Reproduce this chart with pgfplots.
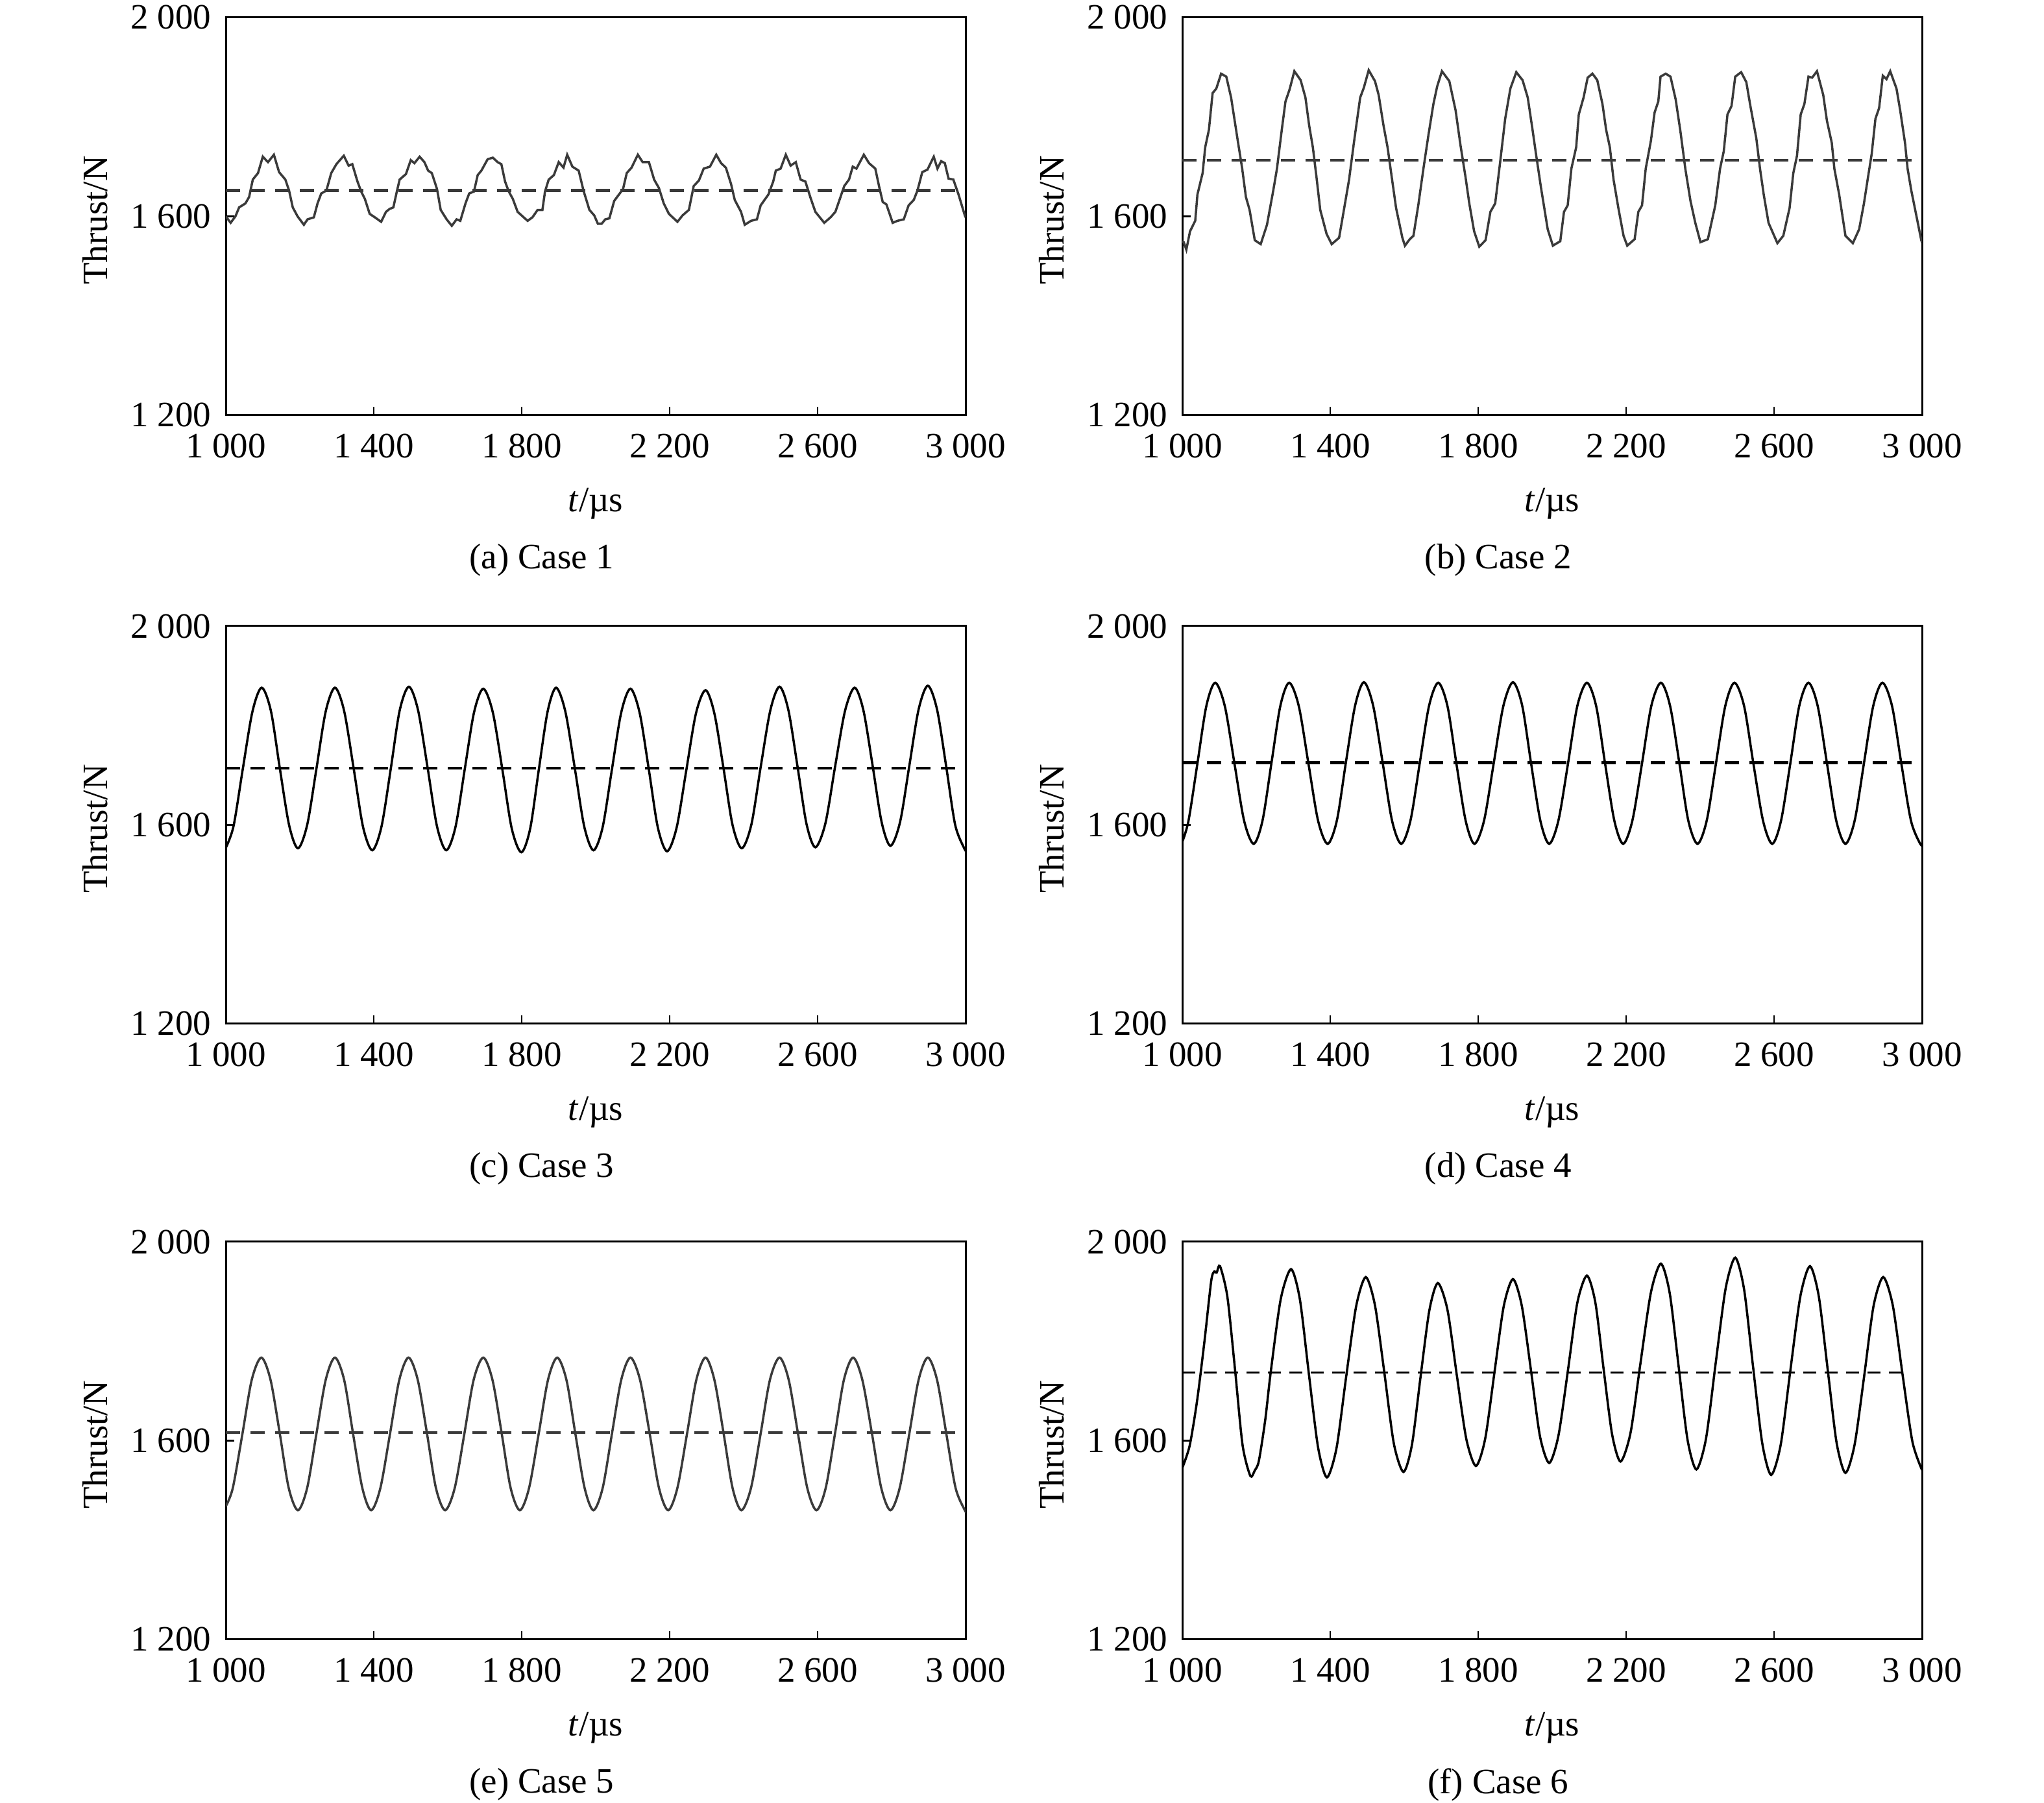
\documentclass[border=0pt]{standalone}
\usepackage{fontspec}
\setmainfont{Liberation Serif}
\usepackage{pgfplots}
\pgfplotsset{compat=1.18}

\newcommand{\fs}{\fontsize{11pt}{13pt}\selectfont}
\definecolor{curvegray}{HTML}{3A3A3A}

\pgfplotsset{
  panel/.style={
    width=228pt, height=122.6pt, scale only axis,
    anchor=south west,
    xmin=1000, xmax=3000, ymin=1200, ymax=2000,
    xtick={1000,1400,1800,2200,2600,3000},
    xticklabels={1 000,1 400,1 800,2 200,2 600,3 000},
    ytick={1200,1600,2000},
    yticklabels={1 200,1 600,2 000},
    tick align=inside, xtick pos=bottom, ytick pos=left,
    major tick length=2.5pt,
    axis line style={line width=0.6pt},
    tick style={line width=0.5pt, black},
    ticklabel style={font=\fs},
    xticklabel style={yshift=-2.2pt},
    yticklabel style={xshift=-1pt},
    label style={font=\fs},
    xlabel={\textit{t}/µs},
    ylabel={Thrust/N},
    xlabel style={at={(axis description cs:0.5,-0.222)}, anchor=center},
    ylabel style={at={(axis description cs:-0.177,0.49)}, anchor=center},
    % the default title style shifts up by 6pt; take it back
    title style={font=\fs, at={(axis description cs:0.427,-0.365)}, anchor=center, yshift=-6pt},
  },
  curve/.style={line width=0.7pt, black},
  mean/.style={line width=0.9pt, black, dash pattern=on 4.4pt off 3.2pt},
}

\begin{document}
\begin{tikzpicture}
\path[use as bounding box] (0,0) rectangle (630pt,555.8pt);

% (a) Case 1
\begin{axis}[panel, at={(69.6pt,427.8pt)}, title={(a) Case 1}]
\addplot[curve, curvegray] coordinates {
(1000,1600) (1013,1587) (1026,1600) (1036,1618) (1053,1626) (1063,1639) (1073,1674) (1087,1687)
(1100,1720) (1114,1709) (1130,1724) (1144,1689) (1161,1674) (1171,1652) (1181,1618) (1194,1600)
(1211,1583) (1221,1594) (1238,1598) (1248,1626) (1258,1646) (1272,1652) (1285,1687) (1299,1705)
(1319,1722) (1332,1702) (1342,1705) (1356,1670) (1366,1650) (1376,1635) (1389,1605) (1403,1598)
(1420,1589) (1433,1609) (1443,1615) (1453,1618) (1463,1652) (1470,1674) (1487,1685) (1500,1713)
(1510,1707) (1524,1720) (1537,1709) (1547,1692) (1557,1687) (1571,1655) (1581,1613) (1597,1594)
(1611,1581) (1624,1594) (1634,1591) (1648,1626) (1658,1646) (1671,1650) (1681,1683) (1691,1692)
(1708,1715) (1722,1718) (1735,1709) (1745,1705) (1755,1670) (1765,1650) (1776,1635) (1789,1609)
(1816,1591) (1829,1598) (1843,1613) (1856,1613) (1863,1650) (1873,1674) (1887,1683) (1900,1709)
(1913,1698) (1923,1724) (1937,1700) (1954,1692) (1967,1652) (1983,1613) (1996,1602) (2006,1585)
(2016,1585) (2026,1594) (2037,1596) (2050,1631) (2063,1644) (2074,1655) (2084,1687) (2097,1698)
(2114,1724) (2127,1709) (2144,1709) (2158,1674) (2171,1657) (2184,1626) (2198,1605) (2221,1589)
(2235,1602) (2252,1613) (2265,1661) (2279,1672) (2292,1696) (2309,1700) (2326,1724) (2339,1707)
(2352,1698) (2366,1665) (2376,1633) (2393,1609) (2403,1583) (2420,1591) (2436,1594) (2446,1622)
(2467,1644) (2480,1670) (2487,1692) (2500,1696) (2514,1724) (2527,1702) (2541,1709) (2554,1674)
(2567,1670) (2581,1637) (2594,1609) (2618,1587) (2635,1598) (2648,1609) (2662,1639) (2672,1661)
(2685,1674) (2695,1700) (2705,1696) (2725,1724) (2739,1707) (2756,1696) (2766,1661) (2776,1629)
(2786,1624) (2803,1587) (2816,1591) (2833,1594) (2846,1622) (2860,1633) (2870,1652) (2883,1689)
(2897,1694) (2914,1720) (2924,1696) (2934,1711) (2944,1707) (2954,1676) (2967,1674) (2981,1644)
(2998,1602) (3000,1598)
};
\addplot[mean, curvegray] coordinates {(1000,1652) (3000,1652)};
\end{axis}

% (b) Case 2
\begin{axis}[panel, at={(364.4pt,427.8pt)}, title={(b) Case 2}]
\addplot[curve, curvegray] coordinates {
(1000,1550) (1004,1548) (1011,1533) (1021,1570) (1035,1591) (1041,1644) (1055,1687) (1062,1739)
(1072,1774) (1082,1848) (1092,1857) (1105,1887) (1119,1881) (1132,1839) (1149,1757) (1162,1696)
(1172,1639) (1182,1613) (1196,1552) (1212,1544) (1229,1583) (1246,1652) (1256,1696) (1269,1774)
(1279,1831) (1290,1855) (1303,1892) (1320,1874) (1333,1839) (1343,1783) (1353,1739) (1363,1678)
(1373,1613) (1390,1565) (1404,1544) (1424,1557) (1437,1613) (1451,1674) (1464,1748) (1481,1839)
(1491,1859) (1504,1894) (1521,1872) (1531,1844) (1544,1783) (1555,1739) (1568,1670) (1578,1617)
(1595,1557) (1602,1541) (1615,1554) (1625,1561) (1638,1622) (1652,1696) (1665,1761) (1679,1826)
(1689,1861) (1702,1892) (1722,1872) (1739,1813) (1752,1744) (1766,1678) (1776,1626) (1789,1570)
(1803,1539) (1820,1552) (1833,1609) (1846,1626) (1860,1713) (1873,1796) (1887,1857) (1903,1890)
(1920,1874) (1934,1839) (1947,1774) (1957,1722) (1970,1657) (1988,1574) (2002,1541) (2022,1550)
(2032,1609) (2042,1622) (2052,1696) (2065,1739) (2072,1805) (2085,1839) (2096,1879) (2109,1887)
(2122,1874) (2136,1826) (2146,1774) (2156,1739) (2166,1674) (2179,1617) (2193,1561) (2203,1541)
(2223,1554) (2233,1609) (2243,1622) (2253,1696) (2267,1752) (2277,1809) (2287,1831) (2293,1881)
(2307,1887) (2320,1881) (2334,1835) (2347,1770) (2360,1696) (2374,1631) (2387,1587) (2401,1548)
(2421,1554) (2441,1622) (2454,1696) (2464,1731) (2474,1805) (2485,1822) (2495,1881) (2511,1890)
(2525,1870) (2535,1826) (2552,1757) (2562,1696) (2572,1644) (2585,1587) (2609,1546) (2625,1561)
(2642,1617) (2652,1687) (2662,1722) (2672,1805) (2682,1826) (2693,1881) (2703,1879) (2716,1892)
(2733,1844) (2743,1792) (2756,1748) (2763,1696) (2776,1644) (2793,1561) (2813,1546) (2830,1574)
(2843,1626) (2853,1674) (2864,1726) (2874,1796) (2884,1818) (2894,1883) (2904,1876) (2914,1892)
(2931,1857) (2941,1813) (2954,1748) (2961,1696) (2971,1652) (2984,1604) (2998,1552) (3000,1548)
};
\addplot[mean, curvegray] coordinates {(1000,1713) (3000,1713)};
\end{axis}

% (c) Case 3
\begin{axis}[panel, at={(69.6pt,240.2pt)}, title={(c) Case 3}]
\addplot[curve, smooth] coordinates {
(1000,1554) (1021,1598) (1046,1713) (1072,1828) (1097,1876) (1122,1829) (1146,1714) (1171,1600)
(1195,1553) (1220,1600) (1245,1713) (1270,1828) (1295,1876) (1320,1829) (1346,1712) (1371,1596)
(1396,1549) (1421,1597) (1446,1713) (1470,1830) (1495,1878) (1520,1830) (1546,1713) (1571,1597)
(1596,1549) (1621,1596) (1646,1712) (1671,1826) (1696,1874) (1722,1826) (1748,1710) (1773,1593)
(1799,1545) (1823,1593) (1846,1710) (1870,1828) (1893,1876) (1918,1828) (1944,1712) (1969,1597)
(1994,1549) (2019,1596) (2044,1712) (2069,1826) (2094,1874) (2119,1825) (2144,1710) (2168,1595)
(2193,1547) (2219,1595) (2245,1710) (2271,1824) (2297,1871) (2321,1824) (2346,1712) (2370,1600)
(2395,1553) (2421,1601) (2446,1716) (2472,1830) (2497,1878) (2521,1831) (2546,1716) (2570,1602)
(2594,1555) (2621,1603) (2647,1716) (2674,1829) (2700,1876) (2724,1830) (2749,1718) (2773,1606)
(2797,1558) (2823,1606) (2848,1719) (2873,1832) (2898,1880) (2923,1832) (2948,1716) (2972,1600)
(2997,1552) (3000,1552)
};
\addplot[mean] coordinates {(1000,1714) (3000,1714)};
\end{axis}

% (d) Case 4
\begin{axis}[panel, at={(364.4pt,240.2pt)}, title={(d) Case 4}]
\addplot[curve, smooth] coordinates {
(1000,1566) (1017,1609) (1041,1724) (1065,1839) (1089,1886) (1115,1839) (1141,1724) (1167,1609)
(1193,1562) (1217,1609) (1241,1724) (1265,1839) (1289,1886) (1315,1839) (1341,1724) (1367,1609)
(1393,1562) (1418,1609) (1442,1724) (1467,1839) (1491,1887) (1516,1840) (1542,1724) (1567,1609)
(1592,1562) (1617,1609) (1642,1724) (1667,1839) (1692,1886) (1717,1839) (1741,1724) (1766,1609)
(1790,1562) (1816,1609) (1842,1724) (1868,1839) (1894,1887) (1919,1840) (1943,1724) (1968,1609)
(1992,1562) (2017,1609) (2043,1724) (2068,1839) (2094,1886) (2119,1839) (2143,1724) (2168,1609)
(2192,1562) (2217,1609) (2243,1724) (2268,1839) (2294,1886) (2319,1839) (2344,1724) (2368,1609)
(2393,1562) (2418,1609) (2443,1724) (2468,1839) (2493,1886) (2519,1839) (2544,1724) (2570,1609)
(2595,1562) (2619,1609) (2644,1724) (2668,1839) (2693,1886) (2718,1839) (2743,1724) (2768,1609)
(2793,1562) (2818,1609) (2843,1724) (2868,1839) (2893,1886) (2919,1839) (2944,1724) (2970,1609)
(2995,1562) (3000,1564)
};
\addplot[mean] coordinates {(1000,1725) (3000,1725)};
\end{axis}

% (e) Case 5
\begin{axis}[panel, at={(69.6pt,50.4pt)}, title={(e) Case 5}]
\addplot[curve, curvegray, smooth] coordinates {
(1000,1468) (1019,1505) (1045,1614) (1070,1722) (1096,1767) (1121,1722) (1146,1614) (1170,1505)
(1195,1460) (1220,1505) (1245,1614) (1270,1722) (1295,1767) (1320,1722) (1344,1614) (1369,1505)
(1393,1460) (1418,1505) (1444,1614) (1469,1722) (1494,1767) (1519,1722) (1544,1614) (1568,1505)
(1593,1460) (1619,1505) (1645,1614) (1670,1722) (1696,1767) (1721,1722) (1746,1614) (1770,1505)
(1795,1460) (1820,1505) (1846,1614) (1871,1722) (1896,1767) (1921,1722) (1945,1614) (1970,1505)
(1994,1460) (2019,1505) (2044,1614) (2069,1722) (2094,1767) (2120,1722) (2146,1614) (2171,1505)
(2196,1460) (2221,1505) (2247,1614) (2272,1722) (2297,1767) (2321,1722) (2346,1614) (2370,1505)
(2394,1460) (2420,1505) (2446,1614) (2471,1722) (2497,1767) (2522,1722) (2547,1614) (2572,1505)
(2597,1460) (2622,1505) (2647,1614) (2671,1722) (2696,1767) (2721,1722) (2747,1614) (2772,1505)
(2797,1460) (2822,1505) (2848,1614) (2873,1722) (2898,1767) (2923,1722) (2948,1614) (2973,1505)
(2998,1460) (3000,1460)
};
\addplot[mean, curvegray] coordinates {(1000,1616) (3000,1616)};
\end{axis}

% (f) Case 6
\begin{axis}[panel, at={(364.4pt,50.4pt)}, title={(f) Case 6}]
\addplot[curve, smooth, tension=0.45] coordinates {
(1000,1545) (1020,1590) (1040,1680) (1060,1800) (1078,1920) (1086,1940) (1093,1938) (1102,1951)
(1122,1889) (1143,1740) (1163,1591) (1184,1529) (1196,1540) (1207,1559) (1224,1640) (1239,1737)
(1266,1884) (1294,1945) (1318,1884) (1342,1736) (1367,1587) (1391,1526) (1417,1585) (1443,1728)
(1470,1870) (1496,1929) (1521,1872) (1547,1733) (1572,1594) (1598,1537) (1621,1592) (1644,1727)
(1668,1862) (1691,1917) (1717,1863) (1742,1733) (1768,1603) (1794,1549) (1819,1604) (1844,1737)
(1869,1870) (1894,1925) (1918,1871) (1943,1740) (1967,1609) (1992,1555) (2017,1610) (2043,1743)
(2068,1877) (2094,1932) (2117,1877) (2139,1745) (2162,1613) (2185,1558) (2212,1616) (2239,1757)
(2267,1898) (2294,1956) (2318,1896) (2342,1749) (2366,1602) (2390,1542) (2416,1604) (2442,1755)
(2469,1906) (2495,1968) (2519,1904) (2543,1750) (2568,1595) (2592,1531) (2618,1592) (2644,1741)
(2671,1890) (2697,1951) (2721,1890) (2745,1743) (2769,1596) (2793,1535) (2818,1593) (2844,1732)
(2869,1871) (2895,1929) (2921,1872) (2947,1735) (2974,1598) (3000,1541)
};
\addplot[line width=0.5pt, black, dash pattern=on 4pt off 2.6pt] coordinates {(1000,1737) (2968,1737)};
\end{axis}
\end{tikzpicture}
\end{document}
